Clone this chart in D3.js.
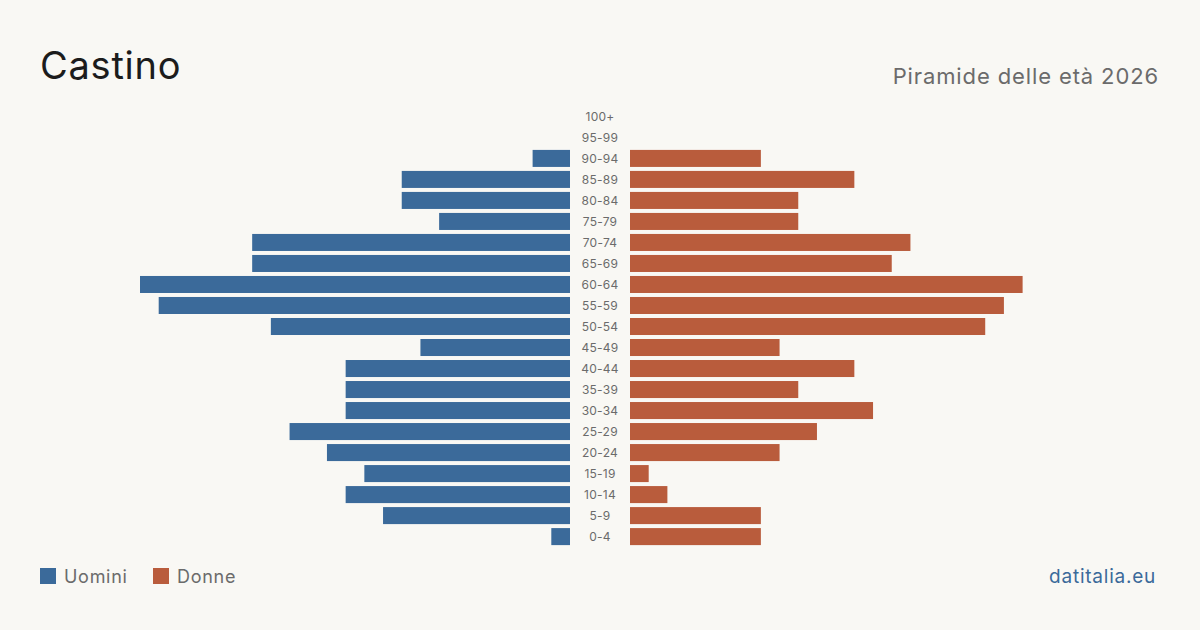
<!DOCTYPE html>
<html lang="it">
<head>
<meta charset="UTF-8">
<title>Castino - Piramide delle età 2026</title>
<script src="https://d3js.org/d3.v7.min.js"></script>
<style>
  html, body { margin: 0; padding: 0; background: #f9f8f4; }
  svg { display: block; font-family: Inter, "Noto Sans", sans-serif; }
  text { letter-spacing: 0.04em; }
</style>
</head>
<body>
<svg id="chart" width="1200" height="630"></svg>
<script>
// age classes, top to bottom
const ageGroups = ['100+', '95-99', '90-94', '85-89', '80-84', '75-79', '70-74', '65-69', '60-64',
  '55-59', '50-54', '45-49', '40-44', '35-39', '30-34', '25-29', '20-24', '15-19', '10-14', '5-9', '0-4'];
const uomini = [0, 0, 2, 9, 9, 7, 17, 17, 23, 22, 16, 8, 12, 12, 12, 15, 13, 11, 12, 10, 1];
const donne  = [0, 0, 7, 12, 9, 9, 15, 14, 21, 20, 19, 8, 12, 9, 13, 10, 8, 1, 2, 7, 7];

const colM = '#3b6a9a', colF = '#b95c3c';
const svg = d3.select('#chart');

const y = d3.scaleBand().domain(ageGroups).range([106, 547]).paddingInner(0.19).paddingOuter(0.09);
const maxV = d3.max(uomini.concat(donne));
const w = d3.scaleLinear().domain([0, maxV]).range([0, 430]);
const midL = 570, midR = 630;

const rows = ageGroups.map((g, i) => ({ g, m: uomini[i], f: donne[i] }));

svg.selectAll('.m').data(rows).enter().append('rect')
  .attr('x', d => midL - w(d.m)).attr('y', d => y(d.g))
  .attr('width', d => w(d.m)).attr('height', y.bandwidth())
  .attr('fill', colM);

svg.selectAll('.f').data(rows).enter().append('rect')
  .attr('x', midR).attr('y', d => y(d.g))
  .attr('width', d => w(d.f)).attr('height', y.bandwidth())
  .attr('fill', colF);

svg.selectAll('.lab').data(rows).enter().append('text')
  .attr('x', 600).attr('y', d => y(d.g) + y.bandwidth() / 2)
  .attr('dy', '0.35em').attr('text-anchor', 'middle')
  .attr('font-size', 12).attr('fill', '#6b6b6b')
  .style('letter-spacing', '0.02em')
  .text(d => d.g);

// titles
svg.append('text').attr('x', 40).attr('y', 79).attr('font-size', 38)
  .attr('fill', '#1c1c1c').style('letter-spacing', '0.02em').text('Castino');
svg.append('text').attr('x', 1159).attr('y', 84).attr('text-anchor', 'end')
  .attr('font-size', 22).attr('fill', '#6b6b6b').text('Piramide delle età 2026');

// legend
const legend = [{ k: 'Uomini', c: colM, x: 40 }, { k: 'Donne', c: colF, x: 153 }];
legend.forEach(l => {
  svg.append('rect').attr('x', l.x).attr('y', 568).attr('width', 16).attr('height', 16).attr('fill', l.c);
  svg.append('text').attr('x', l.x + 24).attr('y', 583).attr('font-size', 18)
    .attr('fill', '#6b6b6b').text(l.k);
});

svg.append('text').attr('x', 1156).attr('y', 583).attr('text-anchor', 'end')
  .attr('font-size', 19).attr('fill', '#3b6a9a').text('datitalia.eu');
</script>
</body>
</html>
